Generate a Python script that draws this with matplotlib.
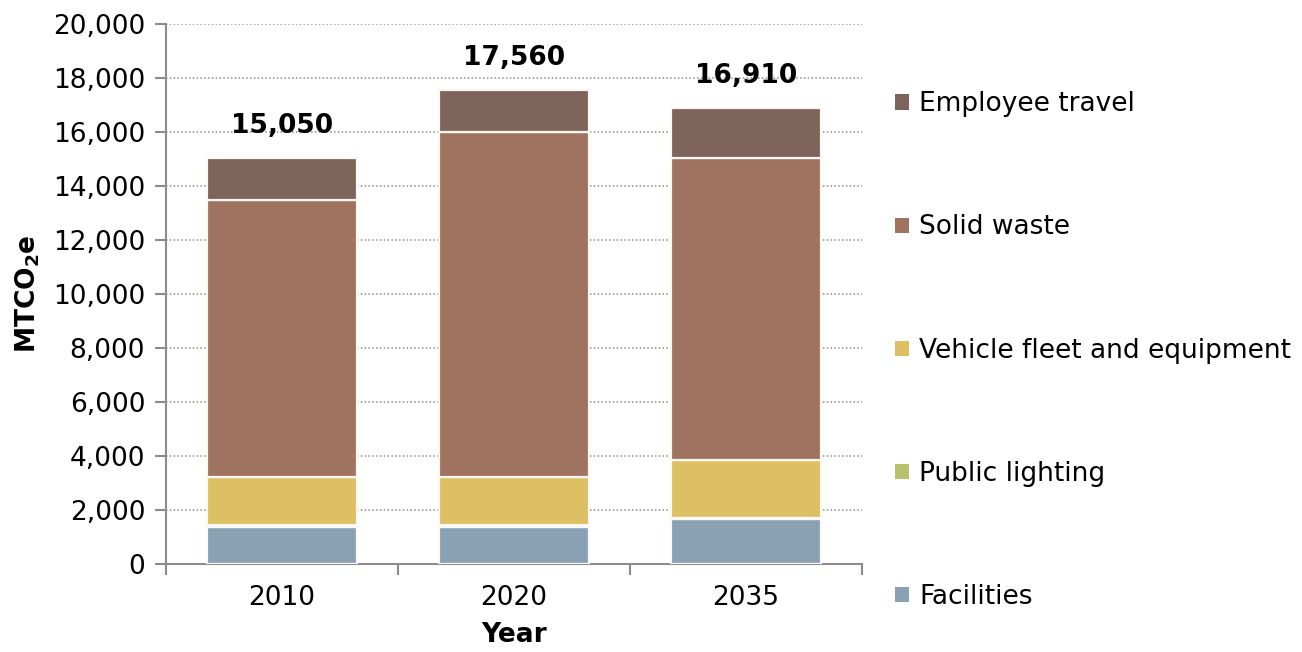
import numpy as np
import matplotlib
matplotlib.use('Agg')
import matplotlib.pyplot as plt
from matplotlib.ticker import FuncFormatter
from matplotlib.patches import Patch

# Emissions by sector (MTCO2e)
years = ['2010', '2020', '2035']
sectors = ['Facilities', 'Public lighting', 'Vehicle fleet and equipment',
           'Solid waste', 'Employee travel']
facilities = [1380, 1380, 1650]
public_lighting = [70, 70, 70]
vehicle_fleet = [1780, 1780, 2130]
solid_waste = [10250, 12770, 11180]
employee_travel = [1570, 1560, 1880]

colors = ['#8aa1b4', '#b8c16c', '#ddc064', '#a07260', '#7e645a']

series = [facilities, public_lighting, vehicle_fleet, solid_waste, employee_travel]

plt.rcParams['font.family'] = 'DejaVu Sans'
FS = 19

fig = plt.figure(figsize=(13.02, 6.52), dpi=100)
ax = fig.add_axes([0.1275, 0.135, 0.5345, 0.828])

x = np.arange(len(years))
bottom = np.zeros(len(years))
for vals, col in zip(series, colors):
    ax.bar(x, vals, width=0.647, bottom=bottom, color=col,
           edgecolor='#fdf8f4', linewidth=1.6, zorder=3)
    bottom += np.array(vals)

# totals above each bar
for xi, tot in zip(x, bottom):
    ax.text(xi, tot + 700, f'{int(tot):,}', ha='center', va='bottom',
            fontsize=FS, fontweight='bold', color='black', zorder=4)

ax.set_xlim(-0.5, len(years) - 0.5)
ax.set_ylim(0, 20000)
ax.set_yticks(np.arange(0, 20001, 2000))
ax.yaxis.set_major_formatter(FuncFormatter(lambda v, p: f'{int(v):,}'))
ax.set_xticks(x)
ax.set_xticklabels(years)
ax.set_xticks(np.arange(-0.5, len(years)), minor=True)
ax.tick_params(axis='x', which='major', length=0, labelsize=FS, pad=15)
ax.tick_params(axis='x', which='minor', length=8, color='#8c8c8c', width=1.5)
ax.tick_params(axis='y', length=8, color='#8c8c8c', width=1.5, labelsize=FS, pad=7)

ax.grid(axis='y', linestyle=(0, (1, 1.5)), color='#8c8c8c', linewidth=1.1, zorder=0)
for s in ['top', 'right']:
    ax.spines[s].set_visible(False)
for s in ['left', 'bottom']:
    ax.spines[s].set_color('#8c8c8c')
    ax.spines[s].set_linewidth(1.5)

ax.set_xlabel('Year', fontsize=FS, fontweight='bold', labelpad=8)
ax.set_ylabel(r'MTCO$_{\mathbf{2}}$e', fontsize=FS, fontweight='bold', labelpad=8)

handles = [Patch(facecolor=c, edgecolor='none') for c in colors]
leg = ax.legend(handles[::-1], sectors[::-1], loc='upper left',
                bbox_to_anchor=(1.033, 0.895), frameon=False, fontsize=FS,
                handlelength=0.5, handleheight=0.5, handletextpad=0.4,
                labelspacing=3.68, borderaxespad=0)

fig.savefig('out.png', dpi=100)
